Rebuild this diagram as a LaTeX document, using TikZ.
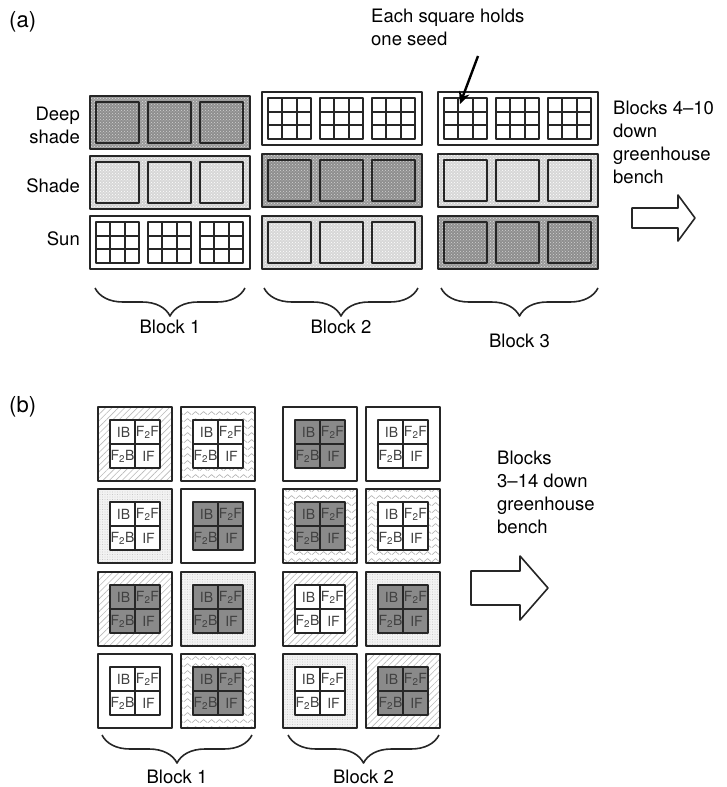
\documentclass[tikz,border=0pt]{standalone}
\usepackage{fontspec}
\setmainfont{TeX Gyre Heros}
\usetikzlibrary{arrows.meta,patterns,patterns.meta,decorations.pathreplacing}
\definecolor{benchedge}{HTML}{262626}
\definecolor{deepfill}{HTML}{8E8E8E}
\definecolor{shadefill}{HTML}{D2D2D2}
\definecolor{corefill}{HTML}{8A8A8A}

% zigzag texture for the pot rims
\tikzdeclarepattern{
  name=waves,
  type=uncolored,
  bounding box={(0pt,0pt) and (8pt,7pt)},
  tile size={(8pt,7pt)},
  code={
    \draw[line width=0.7pt,line join=round] (0pt,1.5pt) -- (4pt,5pt) -- (8pt,1.5pt);
  }
}

\begin{document}
\begin{tikzpicture}[
  x=1pt,
  y=-1pt,
  line join=round,
  lab/.style={font=\fontsize{18.5}{23}\selectfont,inner sep=0pt},
  panel/.style={font=\fontsize{22}{26}\selectfont,inner sep=0pt},
  row-deep/.style={draw=benchedge,line width=2.8pt,preaction={fill=deepfill!90!white},pattern=crosshatch dots,pattern color=gray!25},
  row-shade/.style={draw=benchedge,line width=2.8pt,preaction={fill=shadefill},pattern=crosshatch dots,pattern color=white},
  row-sun/.style={draw=benchedge,line width=2.8pt,fill=white},
  seed-deep/.style={draw=benchedge,line width=2pt,preaction={fill=deepfill},pattern=crosshatch dots,pattern color=gray!35},
  seed-shade/.style={draw=benchedge,line width=2pt,preaction={fill=shadefill!90!white},pattern=crosshatch dots,pattern color=white},
  seed-sun/.style={draw=benchedge,line width=2pt,fill=white},
  seedgrid/.style={draw=benchedge,line width=1.7pt},
  pot-hatch/.style={draw=benchedge,line width=2.8pt,preaction={fill=white},pattern={Lines[angle=45,distance=4.5pt,line width=0.6pt]},pattern color=gray!55},
  pot-wave/.style={draw=benchedge,line width=2.8pt,preaction={fill=white},pattern=waves,pattern color=gray!60},
  pot-dots/.style={draw=benchedge,line width=2.8pt,preaction={fill=gray!10},pattern={Dots[distance=2.5pt,radius=0.45pt]},pattern color=gray!60},
  pot-plain/.style={draw=benchedge,line width=2.8pt,fill=white},
  core-white/.style={draw=benchedge,line width=2pt,fill=white},
  core-dark/.style={draw=benchedge,line width=2pt,fill=corefill},
  celline/.style={draw=benchedge,line width=2pt},
  cell/.style={font=\fontsize{14}{15}\selectfont,text=black!75,inner sep=0pt},
  bracket/.style={draw=benchedge,line width=1.6pt,decorate,decoration={brace,mirror,amplitude=28pt}},
  bigarrow/.style={draw=benchedge,line width=1.6pt,fill=white},
  seedarrow/.style={draw=black,line width=2.4pt,-{Stealth[length=12pt,width=11pt]}}
]
  \useasboundingbox (0,0) rectangle (727,787);

  % ---------- (a) light rows ----------
  \node[panel,anchor=north west] (panela) at (9,11) {(a)};

  \foreach \bx/\ry/\kind in {90/96/deep,90/156/shade,90/216/sun,
                             262/92/sun,262/154/deep,262/216/shade,
                             438/92/sun,438/154/shade,438/216/deep} {
    \draw[row-\kind] (\bx,\ry) rectangle ++(160,53);
    \foreach \sx in {6,58,110}
      \draw[seed-\kind] (\bx+\sx,\ry+6) rectangle ++(43,41);
  }

  % one seed per grid square in the sun pots
  \foreach \bx/\ry in {90/216,262/92,438/92}
    \foreach \sx in {6,58,110} {
      \draw[seedgrid] (\bx+\sx+14.3,\ry+6) -- ++(0,41);
      \draw[seedgrid] (\bx+\sx+28.7,\ry+6) -- ++(0,41);
      \draw[seedgrid] (\bx+\sx,\ry+19.7) -- ++(43,0);
      \draw[seedgrid] (\bx+\sx,\ry+33.3) -- ++(43,0);
    }

  \node[lab,anchor=east,align=right] (deeplab) at (80,125) {Deep\\shade};
  \node[lab,anchor=east] (shadelab) at (80,186) {Shade};
  \node[lab,anchor=east] (sunlab) at (80,239) {Sun};

  \node[lab,anchor=north west,align=left] (seednote) at (371,9) {Each square holds\\one seed};
  \coordinate (seedtail) at (478,56);
  \coordinate (seedtip) at (460,104);
  \draw[seedarrow] (seedtail) -- (seedtip);

  \node[lab,anchor=north west,align=left] (benchnotea) at (613,101) {Blocks 4--10\\down\\greenhouse\\bench};
  \draw[bigarrow] (632,208) -- (678,208) -- (678,195) -- (695,218) -- (678,241) -- (678,228) -- (632,228) -- cycle;

  \foreach \bl/\xa/\xb/\ty in {1/95/245/327,2/264/418/327,3/441/598/341} {
    \draw[bracket] (\xa,288) -- (\xb,288);
    \node[lab] (blocka\bl) at ({(\xa+\xb)/2},\ty) {Block \bl};
  }

  % ---------- (b) pots of four seedlings ----------
  \node[panel,anchor=north west] (panelb) at (9,396) {(b)};

  \foreach \px/\py/\edge/\core in {
      98/407/hatch/white,181/407/wave/white,283/407/plain/dark,366/407/plain/white,
      98/489/dots/white,181/489/plain/dark,283/489/wave/dark,366/489/wave/white,
      98/572/hatch/dark,181/572/dots/dark,283/572/hatch/white,366/572/dots/dark,
      98/654/plain/white,181/654/wave/dark,283/654/dots/white,366/654/hatch/dark} {
    \draw[pot-\edge] (\px,\py) rectangle ++(74,74);
    \draw[core-\core] (\px+12,\py+13) rectangle ++(50,48);
    \draw[celline] (\px+37,\py+13) -- ++(0,48);
    \draw[celline] (\px+12,\py+37) -- ++(50,0);
    \node[cell] (ib\px\py) at (\px+25.5,\py+25.5) {IB};
    \node[cell] (ff\px\py) at (\px+49.5,\py+25.5) {F\textsubscript{2}F};
    \node[cell] (fb\px\py) at (\px+24.5,\py+49.5) {F\textsubscript{2}B};
    \node[cell] (if\px\py) at (\px+50.5,\py+49.5) {IF};
  }

  \node[lab,anchor=north west,align=left] (benchnoteb) at (497,451) {Blocks\\3--14 down\\greenhouse\\bench};
  \draw[bigarrow] (471,571) -- (520,571) -- (520,556) -- (548,588) -- (520,620) -- (520,605) -- (471,605) -- cycle;

  \foreach \bl/\xa/\xb in {1/102/252,2/288/439} {
    \draw[bracket] (\xa,735) -- (\xb,735);
    \node[lab] (blockb\bl) at ({(\xa+\xb)/2},777) {Block \bl};
  }
\end{tikzpicture}
\end{document}
